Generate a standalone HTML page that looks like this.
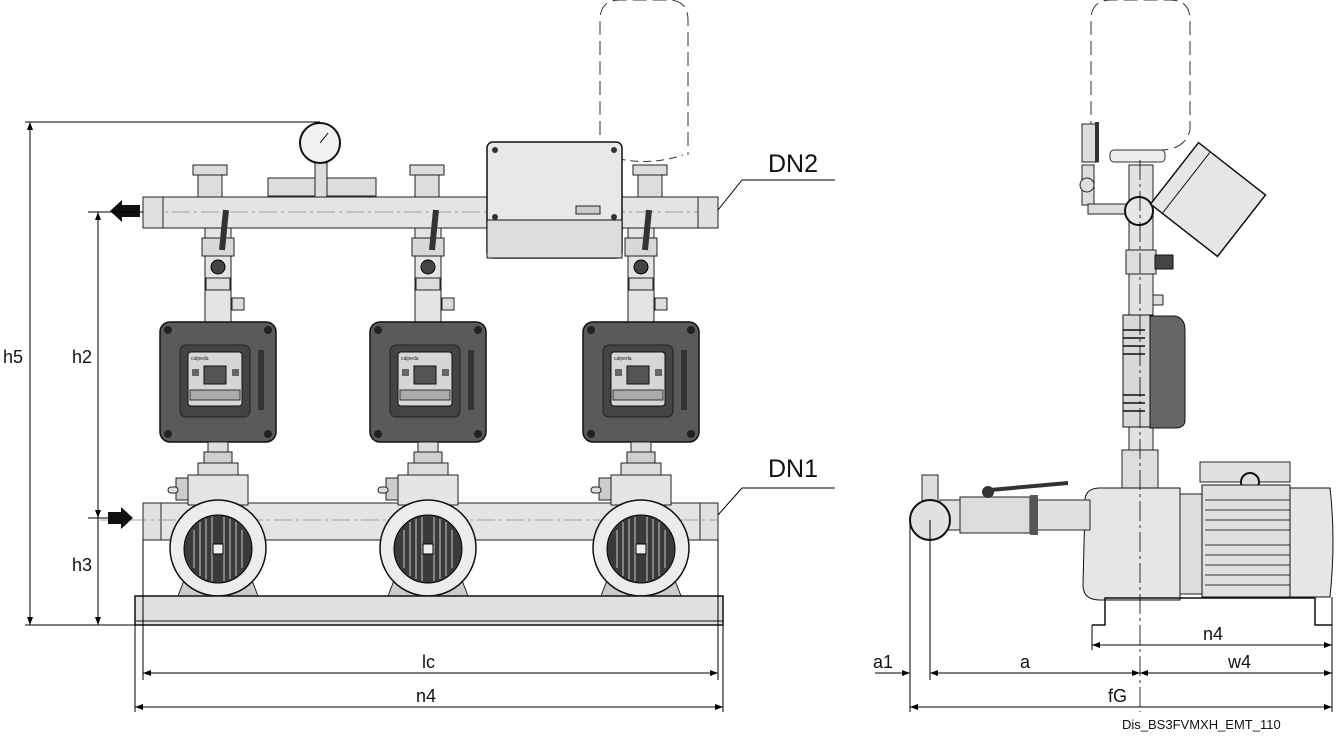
<!DOCTYPE html>
<html><head><meta charset="utf-8"><style>
html,body{margin:0;padding:0;background:#fff;}
svg{display:block;font-family:"Liberation Sans",sans-serif;}
</style></head><body>
<svg width="1337" height="737" viewBox="0 0 1337 737" xmlns="http://www.w3.org/2000/svg">
<defs>
<marker id="ar" markerWidth="8" markerHeight="6" refX="8" refY="3" orient="auto"><path d="M0,0 L8,3 L0,6 z" fill="#000"/></marker>
<marker id="al" markerWidth="8" markerHeight="6" refX="0" refY="3" orient="auto"><path d="M8,0 L0,3 L8,6 z" fill="#000"/></marker>
<g id="pumpL">
  <!-- vertical pipe to top manifold -->
  <rect x="-13" y="228" width="26" height="95" fill="#e4e4e4" stroke="#222"/>
  <rect x="-16" y="238" width="32" height="18" fill="#d8d8d8" stroke="#222"/>
  <circle cx="0" cy="267" r="7" fill="#444" stroke="#000"/>
  <rect x="-12" y="278" width="24" height="12" fill="#ddd" stroke="#222"/>
  <rect x="14" y="298" width="12" height="12" fill="#ddd" stroke="#222"/>
  <path d="M8,210 L4,250" stroke="#333" stroke-width="6"/>
  <!-- controller -->
  <rect x="-58" y="322" width="116" height="120" rx="10" fill="#5a5a5a" stroke="#111" stroke-width="1.5"/>
  <circle cx="-50" cy="330" r="4" fill="#222"/><circle cx="50" cy="330" r="4" fill="#222"/>
  <circle cx="-50" cy="434" r="4" fill="#222"/><circle cx="50" cy="434" r="4" fill="#222"/>
  <rect x="-38" y="345" width="70" height="72" rx="6" fill="#444" stroke="#222"/>
  <rect x="-30" y="352" width="54" height="54" rx="3" fill="#d6d6d6" stroke="#111"/>
  <rect x="-14" y="366" width="22" height="18" fill="#555" stroke="#111"/>
  <rect x="-26" y="369" width="7" height="7" fill="#666"/><rect x="14" y="369" width="7" height="7" fill="#666"/>
  <rect x="-28" y="390" width="50" height="10" fill="#aaa" stroke="#333"/>
  <text x="-27" y="360" font-size="5" fill="#222">calpeda</text>
  <rect x="40" y="350" width="6" height="60" fill="#333"/>
  <!-- neck -->
  <rect x="-10" y="442" width="20" height="12" fill="#ddd" stroke="#222"/>
  <rect x="-14" y="452" width="28" height="12" fill="#cfcfcf" stroke="#222"/>
  <rect x="-20" y="463" width="40" height="12" fill="#ddd" stroke="#222"/>
  <rect x="-30" y="475" width="60" height="30" fill="#e4e4e4" stroke="#222"/>
  <rect x="-42" y="478" width="12" height="22" fill="#ccc" stroke="#222"/>
  <rect x="-50" y="487" width="10" height="6" rx="3" fill="#ddd" stroke="#222"/>
</g>
<g id="motorL">
  <path d="M-40,596 L-30,570 L30,570 L40,596 z" fill="#ccc" stroke="#222"/>
  <circle cx="0" cy="548" r="48" fill="#ececec" stroke="#111" stroke-width="1.5"/>
  <circle cx="0" cy="549" r="34" fill="#3a3a3a" stroke="#000"/>
  <g stroke="#aaa" stroke-width="1.3">
    <line x1="-24" y1="530" x2="-24" y2="568"/><line x1="-18" y1="522" x2="-18" y2="576"/><line x1="-12" y1="519" x2="-12" y2="579"/><line x1="-6" y1="517" x2="-6" y2="581"/><line x1="6" y1="517" x2="6" y2="581"/><line x1="12" y1="519" x2="12" y2="579"/><line x1="18" y1="522" x2="18" y2="576"/><line x1="24" y1="530" x2="24" y2="568"/>
  </g>
  <rect x="-5" y="544" width="10" height="10" fill="#eee" stroke="#000"/>
</g>
</defs>

<!-- LEFT VIEW -->
<!-- tank dashed -->
<path d="M600,155 L600,20 Q600,0 620,0 L668,0 Q688,0 688,20 L688,155" fill="none" stroke="#333" stroke-dasharray="14,6"/>
<path d="M605,155 Q644,168 683,155" fill="none" stroke="#333" stroke-dasharray="8,5"/>
<!-- top manifold -->
<rect x="143" y="197" width="575" height="31" fill="#e4e4e4" stroke="#222"/>
<line x1="143" y1="212" x2="718" y2="212" stroke="#888" stroke-dasharray="18,4,3,4" stroke-width="0.8"/>
<rect x="143" y="197" width="20" height="31" fill="#e0e0e0" stroke="#222"/>
<rect x="698" y="197" width="20" height="31" fill="#e0e0e0" stroke="#222"/>
<!-- valves on top -->
<g fill="#ddd" stroke="#222">
<rect x="198" y="170" width="24" height="27"/><rect x="193" y="165" width="34" height="10"/>
<rect x="415" y="170" width="24" height="27"/><rect x="410" y="165" width="34" height="10"/>
<rect x="638" y="170" width="24" height="27"/><rect x="633" y="165" width="34" height="10"/>
<rect x="268" y="178" width="108" height="18"/><rect x="315" y="163" width="12" height="34"/>
</g>
<circle cx="320" cy="143" r="20" fill="#f2f2f2" stroke="#111" stroke-width="2"/>
<line x1="320" y1="143" x2="328" y2="133" stroke="#000"/>
<!-- control box -->
<rect x="487" y="142" width="135" height="116" rx="6" fill="#e8e8e8" stroke="#111" stroke-width="1.5"/>
<rect x="487" y="220" width="135" height="38" fill="#dcdcdc" stroke="#111"/>
<circle cx="495" cy="150" r="3" fill="#333"/><circle cx="614" cy="150" r="3" fill="#333"/>
<circle cx="495" cy="217" r="3" fill="#333"/><circle cx="614" cy="217" r="3" fill="#333"/>
<rect x="576" y="206" width="24" height="8" fill="#ccc" stroke="#222"/>
<!-- lower manifold -->
<rect x="143" y="503" width="575" height="37" fill="#e4e4e4" stroke="#222"/>
<rect x="143" y="503" width="18" height="37" fill="#e0e0e0" stroke="#222"/>
<rect x="700" y="503" width="18" height="37" fill="#e0e0e0" stroke="#222"/>
<line x1="100" y1="520" x2="718" y2="520" stroke="#888" stroke-dasharray="18,4,3,4" stroke-width="0.8"/>
<use href="#pumpL" x="218"/><use href="#pumpL" x="428"/><use href="#pumpL" x="641"/>
<use href="#motorL" x="218"/><use href="#motorL" x="428"/><use href="#motorL" x="641"/>
<!-- base -->
<rect x="135" y="596" width="588" height="29" fill="#e0e0e0" stroke="#111" stroke-width="1.5"/>
<line x1="135" y1="621" x2="723" y2="621" stroke="#111"/>
<!-- flow arrows -->
<path d="M110,211 L122,200 L122,205 L140,205 L140,217 L122,217 L122,222 z" fill="#111"/>
<path d="M133,518 L121,507 L121,512 L108,512 L108,524 L121,524 L121,529 z" fill="#111"/>
<!-- dims left -->
<g stroke="#000" stroke-width="1" fill="none">
<line x1="25" y1="122" x2="320" y2="122"/><line x1="25" y1="625" x2="135" y2="625"/>
<line x1="88" y1="212" x2="143" y2="212"/><line x1="88" y1="518" x2="108" y2="518"/>
<line x1="30" y1="122" x2="30" y2="625" marker-start="url(#al)" marker-end="url(#ar)"/>
<line x1="98" y1="212" x2="98" y2="518" marker-start="url(#al)" marker-end="url(#ar)"/>
<line x1="98" y1="518" x2="98" y2="625" marker-end="url(#ar)"/>
<line x1="143" y1="540" x2="143" y2="680"/><line x1="718" y1="540" x2="718" y2="680"/>
<line x1="135" y1="625" x2="135" y2="712"/><line x1="723" y1="625" x2="723" y2="712"/>
<line x1="143" y1="673" x2="718" y2="673" marker-start="url(#al)" marker-end="url(#ar)"/>
<line x1="135" y1="707" x2="723" y2="707" marker-start="url(#al)" marker-end="url(#ar)"/>
<polyline points="718,210 742,180 835,180"/>
<polyline points="718,515 742,488 835,488"/>
</g>
<g font-size="18" fill="#111">
<text x="3" y="363">h5</text><text x="72" y="363">h2</text><text x="72" y="571">h3</text>
<text x="422" y="668">lc</text><text x="416" y="702">n4</text>
</g>
<g font-size="25" fill="#111"><text x="768" y="172">DN2</text><text x="768" y="477">DN1</text></g>

<!-- RIGHT VIEW -->
<path d="M1091,155 L1091,20 Q1091,0 1111,0 L1170,0 Q1190,0 1190,20 L1190,130 Q1185,150 1160,150" fill="none" stroke="#333" stroke-dasharray="14,6"/>
<rect x="1110" y="150" width="55" height="12" rx="4" fill="#eee" stroke="#333"/>
<rect x="1082" y="124" width="16" height="38" fill="#ddd" stroke="#222"/>
<rect x="1095" y="122" width="4" height="40" fill="#333"/>
<rect x="1082" y="165" width="12" height="40" fill="#ddd" stroke="#222"/>
<circle cx="1087" cy="185" r="7" fill="#ddd" stroke="#222"/>
<rect x="1088" y="204" width="40" height="10" fill="#ddd" stroke="#222"/>
<rect x="1129" y="165" width="24" height="335" fill="#e2e2e2" stroke="#222"/>
<circle cx="1139" cy="211" r="14" fill="#e6e6e6" stroke="#111" stroke-width="2"/>
<rect x="1126" y="250" width="30" height="24" fill="#ddd" stroke="#222"/>
<rect x="1155" y="255" width="18" height="14" fill="#444" stroke="#111"/>
<rect x="1153" y="295" width="10" height="10" fill="#ddd" stroke="#222"/>
<g transform="rotate(38 1207 200)"><rect x="1165" y="160" width="85" height="78" fill="#e6e6e6" stroke="#111" stroke-width="1.5"/><line x1="1180" y1="160" x2="1180" y2="238" stroke="#111"/></g>
<!-- side controller -->
<rect x="1123" y="315" width="30" height="112" fill="#d8d8d8" stroke="#111"/>
<path d="M1150,316 L1175,316 Q1185,318 1185,330 L1185,420 Q1185,428 1175,428 L1150,428 z" fill="#666" stroke="#111"/>
<g stroke="#111" stroke-width="1.5"><line x1="1123" y1="330" x2="1145" y2="330"/><line x1="1123" y1="338" x2="1145" y2="338"/><line x1="1123" y1="346" x2="1145" y2="346"/><line x1="1123" y1="354" x2="1145" y2="354"/><line x1="1123" y1="395" x2="1145" y2="395"/><line x1="1123" y1="403" x2="1145" y2="403"/><line x1="1123" y1="411" x2="1145" y2="411"/></g>
<rect x="1122" y="450" width="36" height="40" fill="#ddd" stroke="#222"/>
<!-- horizontal pump -->
<rect x="1200" y="462" width="90" height="20" fill="#e2e2e2" stroke="#222"/>
<circle cx="1250" cy="482" r="9" fill="#ddd" stroke="#111" stroke-width="2"/>
<path d="M1085,505 Q1083,488 1100,488 L1180,488 L1180,600 L1100,600 Q1083,600 1083,585 z" fill="#e6e6e6" stroke="#111"/>
<rect x="1180" y="494" width="22" height="100" fill="#ddd" stroke="#222"/>
<rect x="1202" y="485" width="88" height="112" fill="#e0e0e0" stroke="#111"/>
<g stroke="#333"><line x1="1205" y1="500" x2="1290" y2="500"/><line x1="1205" y1="510" x2="1290" y2="510"/><line x1="1205" y1="520" x2="1290" y2="520"/><line x1="1205" y1="530" x2="1290" y2="530"/><line x1="1205" y1="545" x2="1290" y2="545"/><line x1="1205" y1="555" x2="1290" y2="555"/><line x1="1205" y1="565" x2="1290" y2="565"/><line x1="1205" y1="575" x2="1290" y2="575"/><line x1="1205" y1="585" x2="1290" y2="585"/></g>
<path d="M1290,488 L1330,488 Q1336,540 1330,597 L1290,597 z" fill="#e6e6e6" stroke="#111"/>
<!-- inlet -->
<rect x="922" y="475" width="16" height="30" fill="#ddd" stroke="#222"/>
<rect x="940" y="500" width="150" height="30" fill="#e2e2e2" stroke="#222"/>
<rect x="960" y="497" width="70" height="36" fill="#ddd" stroke="#222"/>
<rect x="1030" y="495" width="8" height="40" fill="#555"/>
<line x1="990" y1="490" x2="1068" y2="483" stroke="#333" stroke-width="4"/>
<circle cx="988" cy="492" r="6" fill="#333"/>
<circle cx="930" cy="520" r="20" fill="#e2e2e2" stroke="#111" stroke-width="2"/>
<!-- base feet -->
<polyline points="1092,625 1105,625 1105,598 1315,598 1315,625 1332,625" fill="none" stroke="#111" stroke-width="1.5"/>
<!-- dims right -->
<g stroke="#000" stroke-width="1" fill="none">
<line x1="1140" y1="160" x2="1140" y2="712" stroke-dasharray="20,4,3,4" stroke-width="0.8"/>
<line x1="910" y1="520" x2="910" y2="712"/><line x1="930" y1="520" x2="930" y2="680"/>
<line x1="1092" y1="625" x2="1092" y2="650"/><line x1="1332" y1="597" x2="1332" y2="712"/>
<line x1="1092" y1="645" x2="1332" y2="645" marker-start="url(#al)" marker-end="url(#ar)"/>
<line x1="875" y1="673" x2="910" y2="673" marker-end="url(#ar)"/>
<line x1="930" y1="673" x2="1140" y2="673" marker-start="url(#al)" marker-end="url(#ar)"/>
<line x1="1140" y1="673" x2="1332" y2="673" marker-start="url(#al)" marker-end="url(#ar)"/>
<line x1="910" y1="707" x2="1332" y2="707" marker-start="url(#al)" marker-end="url(#ar)"/>
</g>
<g font-size="18" fill="#111">
<text x="1203" y="640">n4</text><text x="873" y="668">a1</text><text x="1020" y="668">a</text><text x="1228" y="668">w4</text><text x="1108" y="702">fG</text>
</g>
<text x="1122" y="729" font-size="13" fill="#111">Dis_BS3FVMXH_EMT_110</text>
</svg>
</body></html>
